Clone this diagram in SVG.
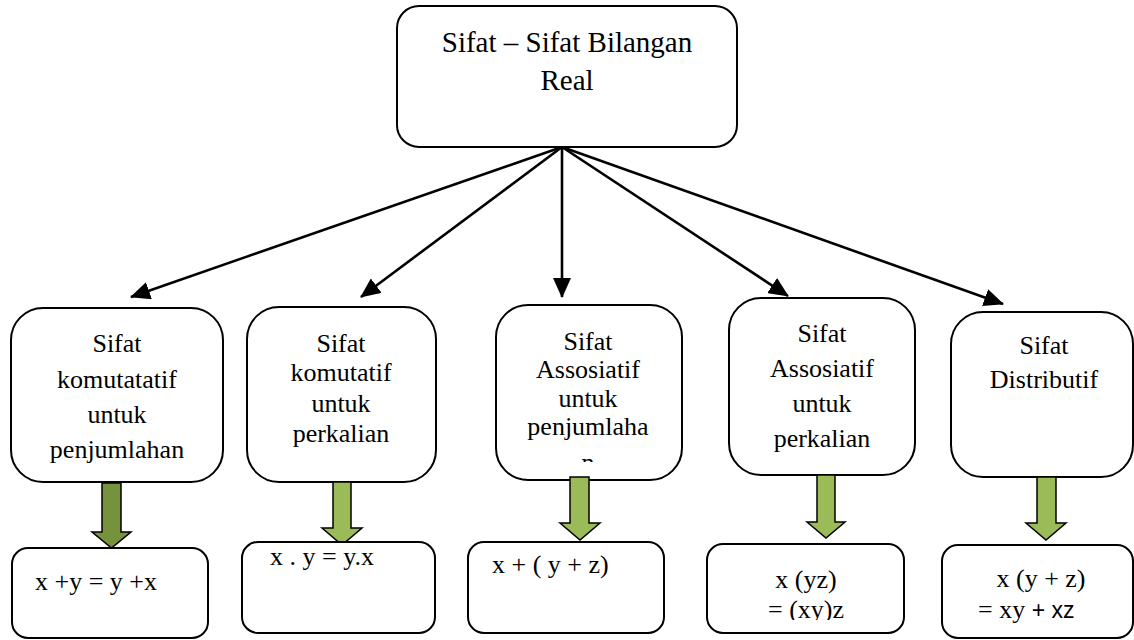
<svg xmlns="http://www.w3.org/2000/svg" width="1134" height="640" viewBox="0 0 1134 640">
<style>
.box{fill:#fff;stroke:#000;stroke-width:2}
.t{font-family:"Liberation Serif","Times New Roman",serif;font-size:26px;fill:#000;text-anchor:middle}
.tl{font-family:"Liberation Serif","Times New Roman",serif;font-size:26px;fill:#000}
.top{font-size:29px}
.conn{stroke:#000;stroke-width:2.6;fill:none;marker-end:url(#ah)}
.ga{fill:#9BBB59;stroke:#000;stroke-width:1.5}
.gd{fill:#76923C;stroke:#000;stroke-width:1.5}
.sans{font-family:"Liberation Sans",Arial,sans-serif;font-size:23px}
</style>
<defs>
<marker id="ah" markerUnits="userSpaceOnUse" markerWidth="20" markerHeight="18" viewBox="0 0 20 18" refX="19" refY="9" orient="auto">
<path d="M0,0 L20,9 L0,18 Z" fill="#000"/>
</marker>
<clipPath id="c3"><rect x="496" y="305" width="186" height="157"/></clipPath>
<clipPath id="c4"><rect x="707" y="544" width="197" height="76"/></clipPath>
</defs>
<rect width="1134" height="640" fill="#fff"/>

<g id="connectors">
<line class="conn" x1="562" y1="147" x2="131" y2="297"/>
<line class="conn" x1="562" y1="147" x2="361" y2="297"/>
<line class="conn" x1="562" y1="147" x2="562" y2="297"/>
<line class="conn" x1="562" y1="147" x2="788" y2="296"/>
<line class="conn" x1="562" y1="147" x2="1003" y2="304"/>
</g>

<g id="n-top">
<rect class="box" x="397" y="6" width="340" height="141" rx="22"/>
<text class="t top" x="567" y="52">Sifat – Sifat Bilangan</text>
<text class="t top" x="567" y="90">Real</text>
</g>

<g id="n1">
<rect class="box" x="11" y="308" width="212" height="174" rx="32"/>
<text class="t" x="117" y="352">Sifat</text>
<text class="t" x="117" y="388">komutatatif</text>
<text class="t" x="117" y="423">untuk</text>
<text class="t" x="117" y="458">penjumlahan</text>
</g>

<g id="n2">
<rect class="box" x="247" y="307" width="189" height="175" rx="32"/>
<text class="t" x="341" y="352">Sifat</text>
<text class="t" x="341" y="381">komutatif</text>
<text class="t" x="341" y="412">untuk</text>
<text class="t" x="341" y="442">perkalian</text>
</g>

<g id="n3">
<rect class="box" x="496" y="305" width="186" height="175" rx="32"/>
<g clip-path="url(#c3)">
<text class="t" x="588" y="350">Sifat</text>
<text class="t" x="588" y="378">Assosiatif</text>
<text class="t" x="588" y="407">untuk</text>
<text class="t" x="588" y="435">penjumlaha</text>
<text class="t" x="588" y="471">n</text>
</g>
</g>

<g id="n4">
<rect class="box" x="729" y="298" width="186" height="177" rx="32"/>
<text class="t" x="822" y="342">Sifat</text>
<text class="t" x="822" y="377">Assosiatif</text>
<text class="t" x="822" y="412">untuk</text>
<text class="t" x="822" y="447">perkalian</text>
</g>

<g id="n5">
<rect class="box" x="951" y="312" width="182" height="165" rx="32"/>
<text class="t" x="1044" y="354">Sifat</text>
<text class="t" x="1044" y="388">Distributif</text>
</g>

<g id="arrows">
<path class="gd" d="M102,483 H121 V532 H131 L111.5,548 L92,532 H102 Z"/>
<path class="ga" d="M333,482 H351 V528 H362 L342,545 L322,528 H333 Z"/>
<path class="ga" d="M570,477 H589 V523 H600 L580,540 L560,523 H570 Z"/>
<path class="ga" d="M817,475 H835 V522 H845 L826,538 L807,522 H817 Z"/>
<path class="ga" d="M1037,477 H1056 V523 H1066 L1046,540 L1026,523 H1037 Z"/>
</g>

<g id="r1">
<rect class="box" x="12" y="548" width="196" height="90" rx="16"/>
<text class="tl" x="35" y="590">x +y = y +x</text>
</g>

<g id="r2">
<rect class="box" x="242" y="542" width="193" height="91" rx="16"/>
<text class="tl" x="270" y="565">x . y = y.x</text>
</g>

<g id="r3">
<rect class="box" x="468" y="542" width="196" height="91" rx="16"/>
<text class="tl" x="492" y="573">x + ( y + z)</text>
</g>

<g id="r4">
<rect class="box" x="707" y="544" width="197" height="89" rx="16"/>
<g clip-path="url(#c4)">
<text class="t" x="806" y="588">x (yz)</text>
<text class="t" x="806" y="618">= (xy)z</text>
</g>
</g>

<g id="r5">
<rect class="box" x="942" y="545" width="191" height="93" rx="16"/>
<text class="t" x="1041" y="587">x (y + z)</text>
<text class="tl" x="978" y="618">= xy <tspan class="sans">+ xz</tspan></text>
</g>
</svg>
